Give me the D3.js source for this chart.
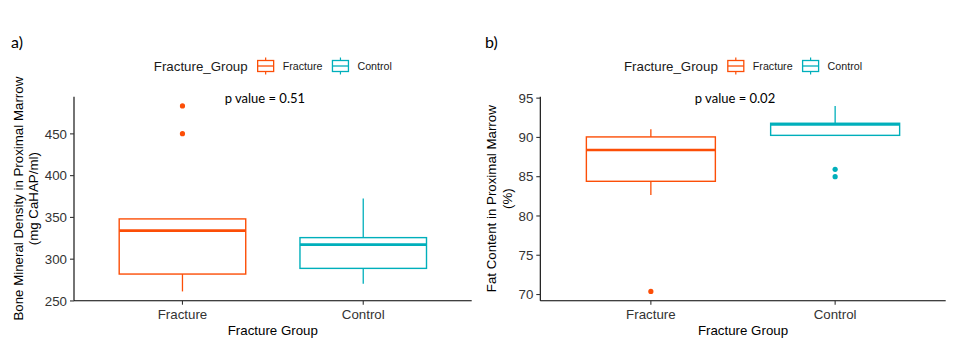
<!DOCTYPE html>
<html>
<head>
<meta charset="utf-8">
<script src="https://cdn.jsdelivr.net/npm/d3@7"></script>
<style>
  html, body { margin: 0; padding: 0; background: #fff; }
  svg { display: block; }
</style>
</head>
<body>
<svg id="chart" width="958" height="361"></svg>
<script>
// ---------------- DATA ----------------
const groups = ["Fracture", "Control"];
const groupColors = ["#FC4E07", "#00AFBB"];
const legendTitle = "Fracture_Group";
const xTitle = "Fracture Group";
const panelLabels = ["a)", "b)"];

// box stats: [lower whisker, Q1, median, Q3, upper whisker]
const bmdStats = [[260.8, 281.6, 333.6, 347.6, 347.6], [270, 288.4, 316.8, 325.2, 372]];
const bmdOutliers = [[482.8, 449.6], []];
const bmdTicks = [250, 300, 350, 400, 450];
const bmdTitle = ["Bone Mineral Density in Proximal Marrow", "(mg CaHAP/ml)"];
const bmdP = "p value = 0.51";

const fatStats = [[82.6, 84.35, 88.34, 90.0, 90.98], [90.2, 90.2, 91.6, 91.74, 93.94]];
const fatOutliers = [[70.33], [85.88, 84.94]];
const fatTicks = [70, 75, 80, 85, 90, 95];
const fatTitle = ["Fat Content in Proximal Marrow", "(%)"];
const fatP = "p value = 0.02";

// ---------------- LAYOUT ----------------
const svg = d3.select("#chart");
const FONT = "'Liberation Sans', Arial, Helvetica, sans-serif";
const CAL = "Lato, 'Open Sans', sans-serif";

const panels = [
  { stats: bmdStats, outliers: bmdOutliers, ticks: bmdTicks, title: bmdTitle, p: bmdP, label: panelLabels[0],
    x0: 74, x1: 471.7, labelX: 11, titleX: [18, 33] },
  { stats: fatStats, outliers: fatOutliers, ticks: fatTicks, title: fatTitle, p: fatP, label: panelLabels[1],
    x0: 540.3, x1: 945.7, labelX: 485, titleX: [491.5, 507.5] }
];
const yTop = 96.7, yBot = 300.7;

panels.forEach(pn => {
  const g = svg.append("g");
  const allVals = pn.stats.flat().concat(pn.outliers.flat());
  const lo = d3.min(allVals), hi = d3.max(allVals);
  const pad = (hi - lo) * 0.05;
  const y = d3.scaleLinear().domain([lo - pad, hi + pad]).range([yBot, yTop]);
  const x = d3.scaleBand().domain(groups).range([pn.x0, pn.x1]).paddingInner(0.3).paddingOuter(0.25);
  const bw = x.bandwidth();

  // axes
  const yAxis = d3.axisLeft(y).tickValues(pn.ticks).tickSize(4).tickPadding(3).tickSizeOuter(0);
  const ya = g.append("g").attr("transform", `translate(${pn.x0},0)`).call(yAxis);
  const xAxis = d3.axisBottom(x).tickSize(4).tickPadding(4).tickSizeOuter(0);
  const xa = g.append("g").attr("transform", `translate(0,${yBot})`).call(xAxis);
  [ya, xa].forEach(a => {
    a.select(".domain").attr("stroke", "#000").attr("stroke-width", 1.1);
    a.selectAll(".tick line").attr("stroke", "#333").attr("stroke-width", 1.1);
    a.selectAll(".tick text").attr("fill", "#333").style("font-family", FONT).style("font-size", "13.3px");
  });
  // y axis line should span full panel height
  ya.select(".domain").attr("d", `M0,${yTop}V${yBot}`);
  xa.select(".domain").attr("d", `M${pn.x0},0H${pn.x1}`);
  ya.selectAll(".tick text").attr("dy", "0.36em");
  xa.selectAll(".tick text").attr("dy", "0.75em");

  // boxes
  groups.forEach((grp, i) => {
    const s = pn.stats[i];
    const col = groupColors[i];
    const cx = x(grp) + bw / 2;
    const bg = g.append("g");
    bg.append("line").attr("x1", cx).attr("x2", cx).attr("y1", y(s[3])).attr("y2", y(s[4]))
      .attr("stroke", col).attr("stroke-width", 1.3);
    bg.append("line").attr("x1", cx).attr("x2", cx).attr("y1", y(s[1])).attr("y2", y(s[0]))
      .attr("stroke", col).attr("stroke-width", 1.3);
    bg.append("rect").attr("x", x(grp)).attr("width", bw).attr("y", y(s[3])).attr("height", y(s[1]) - y(s[3]))
      .attr("fill", "#fff").attr("stroke", col).attr("stroke-width", 1.4);
    bg.append("line").attr("x1", x(grp)).attr("x2", x(grp) + bw).attr("y1", y(s[2])).attr("y2", y(s[2]))
      .attr("stroke", col).attr("stroke-width", 2.6);
    bg.selectAll("circle").data(pn.outliers[i]).join("circle")
      .attr("cx", cx).attr("cy", d => y(d)).attr("r", 2.6).attr("fill", col);
  });

  // p value annotation
  g.append("text").attr("x", (pn.x0 + pn.x1) / 2 - 8).attr("y", 103)
    .attr("text-anchor", "middle").style("font-family", CAL).style("font-size", "13px").attr("fill", "#000")
    .text(pn.p);

  // axis titles
  g.append("text").attr("x", (pn.x0 + pn.x1) / 2).attr("y", 334.5).attr("text-anchor", "middle")
    .style("font-family", FONT).style("font-size", "13.3px").attr("fill", "#000").text(xTitle);
  pn.title.forEach((t, k) => {
    g.append("text").attr("transform", `translate(${pn.titleX[k]},${(yTop + yBot) / 2}) rotate(-90)`)
      .attr("text-anchor", "middle").attr("dy", "0.35em")
      .style("font-family", FONT).style("font-size", "13.3px").attr("fill", "#000").text(t);
  });

  // panel label
  g.append("text").attr("x", pn.labelX).attr("y", 48).style("font-family", CAL).style("font-size", "16px")
    .attr("fill", "#000").text(pn.label);

  // legend (centered over panel)
  const lg = g.append("g");
  const ly = 66;
  const tt = lg.append("text").attr("x", 0).attr("y", ly).attr("dy", "0.35em")
    .style("font-family", FONT).style("font-size", "13.3px").attr("fill", "#1a1a1a").text(legendTitle);
  let cur = tt.node().getComputedTextLength() + 10;
  groups.forEach((grp, i) => {
    const col = groupColors[i];
    const kx = cur, kw = 16;
    lg.append("line").attr("x1", kx + kw / 2).attr("x2", kx + kw / 2).attr("y1", ly - 8.5).attr("y2", ly + 8.5)
      .attr("stroke", col).attr("stroke-width", 1.2);
    lg.append("rect").attr("x", kx).attr("y", ly - 5.5).attr("width", kw).attr("height", 11)
      .attr("fill", "#fff").attr("stroke", col).attr("stroke-width", 1.3);
    lg.append("line").attr("x1", kx).attr("x2", kx + kw).attr("y1", ly).attr("y2", ly)
      .attr("stroke", col).attr("stroke-width", 1.3);
    const lt = lg.append("text").attr("x", kx + kw + 9).attr("y", ly).attr("dy", "0.35em")
      .style("font-family", FONT).style("font-size", "10.7px").attr("fill", "#1a1a1a").text(grp);
    cur = kx + kw + 9 + lt.node().getComputedTextLength() + 10;
  });
  const lw = cur - 10;
  lg.attr("transform", `translate(${(pn.x0 + pn.x1) / 2 - lw / 2},0)`);
});
</script>
</body>
</html>
